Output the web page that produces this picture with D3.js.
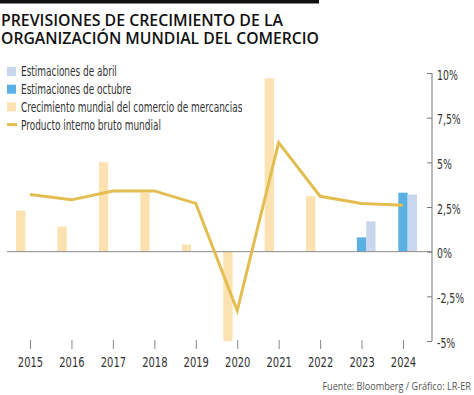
<!DOCTYPE html>
<html>
<head>
<meta charset="utf-8">
<script src="https://cdn.jsdelivr.net/npm/d3@7"></script>
<style>
    body { margin: 0; padding: 0; background: #fff; }
    svg { display: block; }
</style>
</head>
<body>
<div id="chart"></div>
<script>
    var years = [2015, 2016, 2017, 2018, 2019, 2020, 2021, 2022, 2023, 2024];
    // crecimiento mundial del comercio de mercancias (2015-2022)
    var tradeGrowth = [2.3, 1.4, 5.0, 3.3, 0.4, -5.0, 9.7, 3.1, null, null];
    var octEstimates = [null, null, null, null, null, null, null, null, 0.8, 3.3];
    var aprEstimates = [null, null, null, null, null, null, null, null, 1.7, 3.2];
    var worldGdp = [3.2, 2.9, 3.4, 3.4, 2.7, -3.3, 6.1, 3.1, 2.7, 2.6];
    var yTicks = [-5, -2.5, 0, 2.5, 5, 7.5, 10];
    var legendItems = [
        { label: "Estimaciones de abril", color: "#c9d7ee", type: "box" },
        { label: "Estimaciones de octubre", color: "#5aafe3", type: "box" },
        { label: "Crecimiento mundial del comercio de mercancias", color: "#fce2b1", type: "box" },
        { label: "Producto interno bruto mundial", color: "#e3bd4f", type: "line" }
    ];

    var W = 474, H = 395;
    var FONT = "'DejaVu Sans Condensed', 'DejaVu Sans', sans-serif";

    var svg = d3.select("#chart").append("svg")
        .attr("width", W)
        .attr("height", H);

    // squeeze text horizontally, the original uses a condensed face
    function condense(sel, k) {
        sel.each(function() {
            var w = this.getComputedTextLength();
            d3.select(this)
                .attr("textLength", w * k)
                .attr("lengthAdjust", "spacingAndGlyphs");
        });
    }

    // titulo
    svg.append("rect").attr("x", 0).attr("y", 0).attr("width", 319).attr("height", 3.5).attr("fill", "#111");
    var title = svg.append("g")
        .attr("font-family", "'Open Sans', sans-serif")
        .attr("font-weight", 600)
        .attr("font-size", 16.5)
        .attr("fill", "#111");
    title.append("text").attr("x", 1).attr("y", 26)
        .attr("textLength", 282).attr("lengthAdjust", "spacingAndGlyphs")
        .text("PREVISIONES DE CRECIMIENTO DE LA");
    title.append("text").attr("x", 1).attr("y", 44)
        .attr("textLength", 318).attr("lengthAdjust", "spacingAndGlyphs")
        .text("ORGANIZACIÓN MUNDIAL DEL COMERCIO");

    var x = d3.scalePoint().domain(years).range([30, 403]);
    var sub = d3.scaleBand().domain(["trade", "oct", "apr"]).range([-14, 14]);
    var y = d3.scaleLinear().domain([-5, 10]).range([341, 73]);

    var rows = years.map(function(yr, i) {
        return { year: yr, trade: tradeGrowth[i], oct: octEstimates[i], apr: aprEstimates[i], gdp: worldGdp[i] };
    });

    var colors = { trade: "#fce2b1", oct: "#5aafe3", apr: "#c9d7ee" };
    var barData = [];
    rows.forEach(function(r) {
        ["trade", "oct", "apr"].forEach(function(k) {
            if (r[k] !== null) barData.push({ year: r.year, key: k, value: r[k] });
        });
    });

    svg.append("g").selectAll("rect")
        .data(barData)
        .enter()
        .append("rect")
        .attr("x", function(d) { return x(d.year) + sub(d.key); })
        .attr("width", sub.bandwidth())
        .attr("y", function(d) { return Math.min(y(d.value), y(0)); })
        .attr("height", function(d) { return Math.abs(y(d.value) - y(0)); })
        .attr("fill", function(d) { return colors[d.key]; });

    // linea de cero
    svg.append("line")
        .attr("x1", 7).attr("x2", 432)
        .attr("y1", y(0)).attr("y2", y(0))
        .attr("stroke", "#8a8a8a").attr("stroke-width", 1);

    // PIB
    var line = d3.line()
        .x(function(d) { return x(d.year); })
        .y(function(d) { return y(d.gdp); });
    svg.append("path")
        .datum(rows)
        .attr("d", line)
        .attr("fill", "none")
        .attr("stroke", "#e3bd4f")
        .attr("stroke-width", 3)
        .attr("stroke-linejoin", "miter");

    // eje y a la derecha
    var yAxis = d3.axisRight(y)
        .tickValues(yTicks)
        .tickSize(0)
        .tickPadding(5)
        .tickFormat(function(d) { return String(d).replace(".", ",") + "%"; });
    var gy = svg.append("g")
        .attr("transform", "translate(432,0)")
        .call(yAxis);
    gy.select(".domain").remove();
    gy.append("line").attr("x1", 0).attr("x2", 0).attr("y1", y(10)).attr("y2", y(-5))
        .attr("stroke", "#777");
    gy.selectAll(".tick").append("line")
        .attr("x1", -5).attr("x2", 0).attr("stroke", "#777");
    gy.selectAll(".tick text")
        .attr("dy", "0.45em")
        .attr("font-family", FONT)
        .attr("font-size", 13.5)
        .attr("fill", "#333")
        .call(condense, 0.77);

    // eje x
    var xAxis = d3.axisBottom(x).tickSize(0).tickPadding(0);
    var gx = svg.append("g")
        .attr("transform", "translate(0,340)")
        .call(xAxis);
    gx.select(".domain").remove();
    gx.selectAll(".tick line").remove();
    gx.selectAll(".tick").append("line")
        .attr("y1", 0).attr("y2", 9).attr("stroke", "#888");
    gx.selectAll(".tick text")
        .attr("y", 27)
        .attr("dy", 0)
        .attr("font-family", FONT)
        .attr("font-size", 13.5)
        .attr("fill", "#333")
        .call(condense, 0.82);

    // leyenda
    var leg = svg.append("g").selectAll("g")
        .data(legendItems)
        .enter()
        .append("g")
        .attr("transform", function(d, i) { return "translate(7," + (71.5 + i * 17.7) + ")"; });
    leg.filter(function(d) { return d.type === "box"; })
        .append("rect")
        .attr("x", 0).attr("y", -4.5).attr("width", 9).attr("height", 9)
        .attr("fill", function(d) { return d.color; });
    leg.filter(function(d) { return d.type === "line"; })
        .append("line")
        .attr("x1", 0).attr("x2", 10).attr("y1", 0).attr("y2", 0)
        .attr("stroke", function(d) { return d.color; })
        .attr("stroke-width", 3);
    leg.append("text")
        .attr("x", 14)
        .attr("y", 0)
        .attr("dy", "0.35em")
        .attr("font-family", FONT)
        .attr("font-size", 14)
        .attr("fill", "#333")
        .text(function(d) { return d.label; })
        .call(condense, 0.71);

    // fuente
    svg.append("g")
        .attr("transform", "translate(471,390) scale(0.83,1)")
        .append("text")
        .attr("x", 0).attr("y", 0)
        .attr("text-anchor", "end")
        .attr("font-family", "'Open Sans', sans-serif")
        .attr("font-size", 11)
        .attr("fill", "#555")
        .text("Fuente: Bloomberg / Gráfico: LR-ER");
</script>
</body>
</html>
